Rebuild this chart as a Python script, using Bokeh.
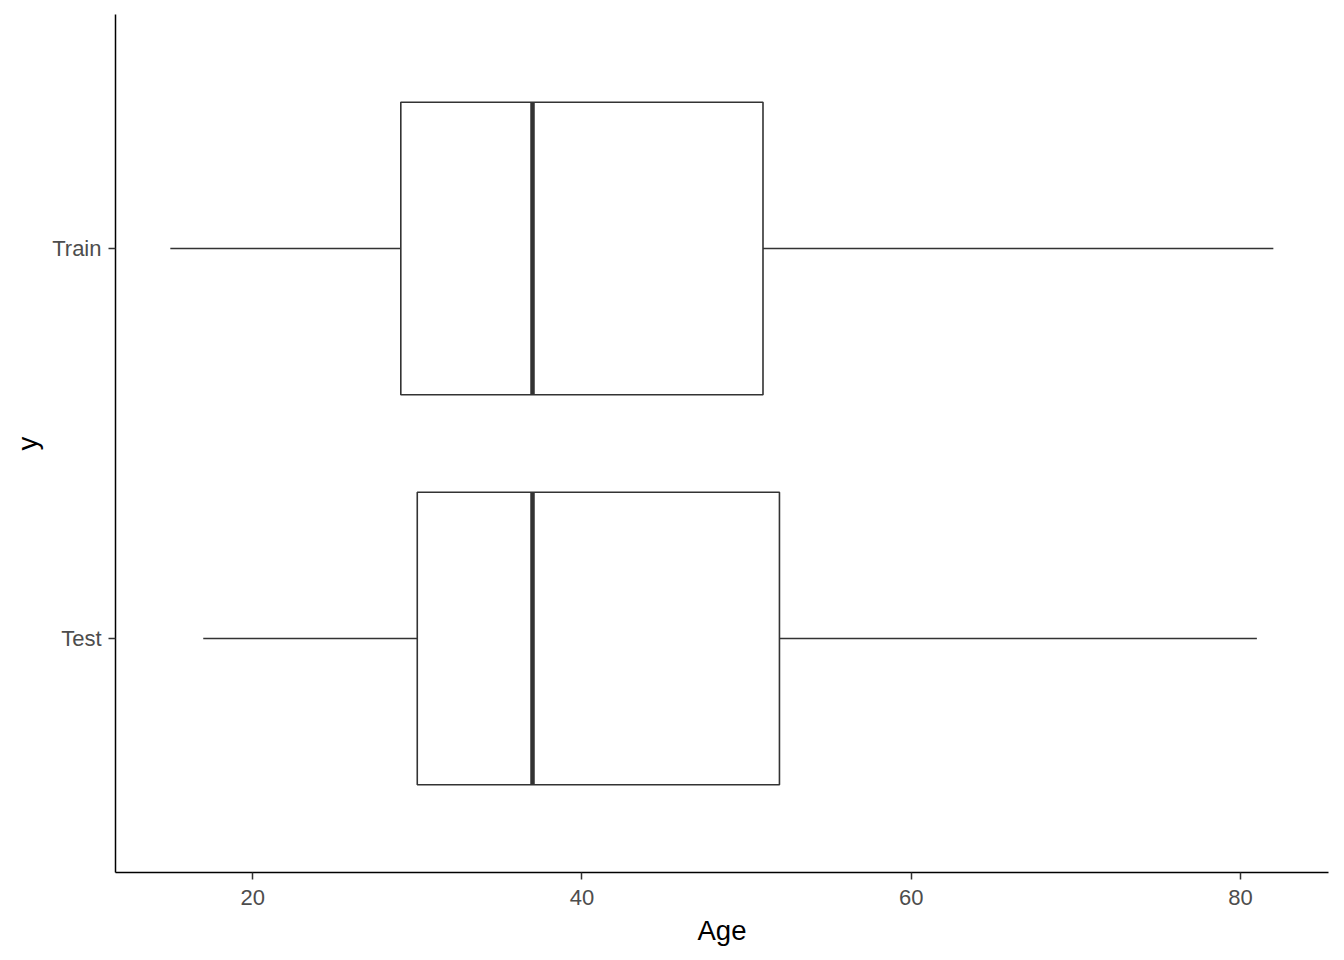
from bokeh.plotting import figure
from bokeh.models import Range1d, FixedTicker, ColumnDataSource
from bokeh.transform import dodge
from bokeh.embed import file_html
from bokeh.resources import INLINE

groups = ["Test", "Train"]
positions = [1, 2]
lower = [17, 15]
q1 = [30, 29]
median = [37, 37]
q3 = [52, 51]
upper = [81, 82]

src = ColumnDataSource(dict(y=positions, lower=lower, q1=q1, median=median, q3=q3, upper=upper))

p = figure(width=1344, height=952, output_backend="svg", toolbar_location=None,
           x_range=Range1d(11.67, 85.35), y_range=Range1d(0.4, 2.6),
           min_border_left=115, min_border_top=14, min_border_right=16, min_border_bottom=80)

bw = 0.75
p.segment(x0="lower", y0="y", x1="q1", y1="y", source=src, line_color="#333333", line_width=1.6)
p.segment(x0="q3", y0="y", x1="upper", y1="y", source=src, line_color="#333333", line_width=1.6)
p.hbar(y="y", left="q1", right="q3", height=bw, source=src, fill_color="white",
       line_color="#333333", line_width=1.6)
p.segment(x0="median", y0=dodge("y", -bw / 2), x1="median", y1=dodge("y", bw / 2), source=src,
          line_color="#333333", line_width=4.5)

p.grid.visible = False
p.outline_line_color = None
p.background_fill_color = "white"
p.border_fill_color = "white"

p.xaxis.ticker = FixedTicker(ticks=[20, 40, 60, 80])
p.yaxis.ticker = FixedTicker(ticks=positions)
p.yaxis.major_label_overrides = {pos: g for pos, g in zip(positions, groups)}

for ax in (p.xaxis[0], p.yaxis[0]):
    ax.axis_line_color = "black"
    ax.axis_line_width = 1.5
    ax.major_tick_line_color = "#333333"
    ax.major_tick_line_width = 1.5
    ax.major_tick_out = 7
    ax.major_tick_in = 0
    ax.minor_tick_line_color = None
    ax.major_label_text_font = "Liberation Sans"
    ax.major_label_text_font_size = "22px"
    ax.major_label_text_color = "#4d4d4d"
    ax.axis_label_text_font = "Liberation Sans"
    ax.axis_label_text_font_size = "27.5px"
    ax.axis_label_text_font_style = "normal"
    ax.axis_label_text_color = "black"

p.xaxis.axis_label = "Age"
p.yaxis.axis_label = "y"
p.xaxis.major_label_standoff = 10
p.yaxis.major_label_standoff = 7
p.xaxis.axis_label_standoff = 7
p.yaxis.axis_label_standoff = 6

open("out.html", "w").write(file_html(p, INLINE))
